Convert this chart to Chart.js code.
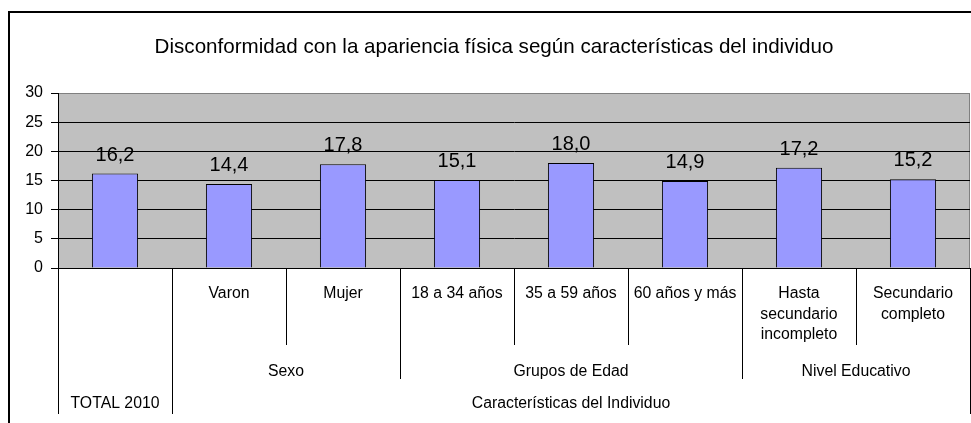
<!DOCTYPE html>
<html>
<head>
<meta charset="utf-8">
<script src="https://cdn.jsdelivr.net/npm/chart.js@4/dist/chart.umd.min.js"></script>
<style>
  html, body { margin: 0; padding: 0; background: #ffffff; }
  canvas { display: block; }
</style>
</head>
<body>
<canvas id="c" width="971" height="423"></canvas>
<script>
// ---- Data ----
const titleText = "Disconformidad con la apariencia física según características del individuo";
const categories = ["", "Varon", "Mujer", "18 a 34 años", "35 a 59 años", "60 años y más",
                    ["Hasta", "secundario", "incompleto"], ["Secundario", "completo"]];
const values = [16.2, 14.4, 17.8, 15.1, 18.0, 14.9, 17.2, 15.2];
const groupLabels = ["", "Sexo", "Grupos de Edad", "Nivel Educativo"];
const groupSizes = [1, 2, 3, 2];
const topLabels = ["TOTAL 2010", "Características del Individuo"];
const topSizes = [1, 7];
const yTicks = [0, 5, 10, 15, 20, 25, 30];

const FONT = '"Liberation Sans", Arial, sans-serif';

function fmt(v) { return v.toFixed(1).replace('.', ','); }

function spansToRanges(sizes) {
  const out = []; let s = 0;
  sizes.forEach(n => { out.push([s, s + n - 1]); s += n; });
  return out;
}

const framePlugin = {
  id: 'frame',
  beforeDraw(chart) {
    const ctx = chart.ctx, a = chart.chartArea;
    ctx.save();
    ctx.fillStyle = '#ffffff';
    ctx.fillRect(0, 0, chart.width, chart.height);
    // outer chart border
    ctx.strokeStyle = '#000000';
    ctx.lineWidth = 2;
    ctx.beginPath();
    ctx.moveTo(9, chart.height + 2);
    ctx.lineTo(9, 12);
    ctx.lineTo(chart.width + 2, 12);
    ctx.stroke();
    // plot area background
    ctx.fillStyle = '#C0C0C0';
    ctx.fillRect(a.left, a.top, a.right - a.left, a.bottom - a.top);
    ctx.strokeStyle = '#808080';
    ctx.lineWidth = 1;
    ctx.strokeRect(Math.round(a.left) + 0.5, Math.round(a.top) + 0.5,
                   Math.round(a.right - a.left) - 1, Math.round(a.bottom - a.top));
    // title
    ctx.fillStyle = '#000000';
    ctx.font = '20.6px ' + FONT;
    ctx.textAlign = 'center';
    ctx.textBaseline = 'alphabetic';
    ctx.fillText(titleText, 494, 53);
    ctx.restore();
  },
  afterDraw(chart) {
    const ctx = chart.ctx, a = chart.chartArea;
    const xs = chart.scales.x;
    const n = values.length;
    const step = xs.getPixelForValue(1) - xs.getPixelForValue(0);
    const boundary = i => (i < n ? xs.getPixelForValue(i) - step / 2 : xs.getPixelForValue(n - 1) + step / 2);
    const center = (s, e) => (boundary(s) + boundary(e + 1)) / 2;

    const groupRanges = spansToRanges(groupSizes);
    const topRanges = spansToRanges(topSizes);
    const topEnds = new Set([0]); topRanges.forEach(r => topEnds.add(r[1] + 1));
    const groupEnds = new Set([0]); groupRanges.forEach(r => groupEnds.add(r[1] + 1));

    ctx.save();
    ctx.strokeStyle = '#000000';
    ctx.lineWidth = 1;
    const y0 = Math.round(a.bottom);
    for (let i = 0; i <= n; i++) {
      let yEnd = 345;
      if (topEnds.has(i)) yEnd = 414;
      else if (groupEnds.has(i)) yEnd = 379;
      const x = Math.round(boundary(i)) + 0.5;
      ctx.beginPath();
      ctx.moveTo(x, y0);
      ctx.lineTo(x, yEnd);
      ctx.stroke();
    }

    ctx.fillStyle = '#000000';
    ctx.font = '15.8px ' + FONT;
    ctx.textAlign = 'center';
    ctx.textBaseline = 'alphabetic';
    categories.forEach((lab, i) => {
      const lines = Array.isArray(lab) ? lab : [lab];
      lines.forEach((ln, k) => ctx.fillText(ln, center(i, i), 298 + k * 20.5));
    });
    groupRanges.forEach((r, gi) => ctx.fillText(groupLabels[gi], center(r[0], r[1]), 376));
    topRanges.forEach((r, ti) => ctx.fillText(topLabels[ti], center(r[0], r[1]), 408));

    // data labels
    ctx.font = '20px ' + FONT;
    const meta = chart.getDatasetMeta(0);
    meta.data.forEach((bar, i) => {
      ctx.fillText(fmt(values[i]), bar.x, bar.y - 13);
    });
    ctx.restore();
  }
};

new Chart(document.getElementById('c'), {
  type: 'bar',
  data: {
    labels: categories.map(c => Array.isArray(c) ? c.join(' ') : c),
    datasets: [{
      data: values,
      backgroundColor: '#9999FF',
      borderColor: '#000000',
      borderWidth: 1,
      categoryPercentage: 1.0,
      barPercentage: 0.405
    }]
  },
  options: {
    responsive: false,
    devicePixelRatio: 1,
    animation: false,
    layout: { padding: { top: 93, left: 0, right: 1, bottom: 155 } },
    plugins: { legend: { display: false }, title: { display: false }, tooltip: { enabled: false } },
    scales: {
      x: { display: false },
      y: {
        min: 0, max: 30,
        afterFit(scale) { scale.width = 58; },
        afterBuildTicks(scale) { scale.ticks = yTicks.map(v => ({ value: v })); },
        ticks: {
          color: '#000000',
          font: { family: FONT, size: 16 },
          padding: 8
        },
        grid: {
          color: c => (c.tick && c.tick.value === 30 ? '#808080' : '#000000'),
          tickColor: '#000000',
          tickLength: 7,
          lineWidth: 1
        },
        border: { color: '#000000', width: 1 }
      }
    }
  },
  plugins: [framePlugin]
});
</script>
</body>
</html>
